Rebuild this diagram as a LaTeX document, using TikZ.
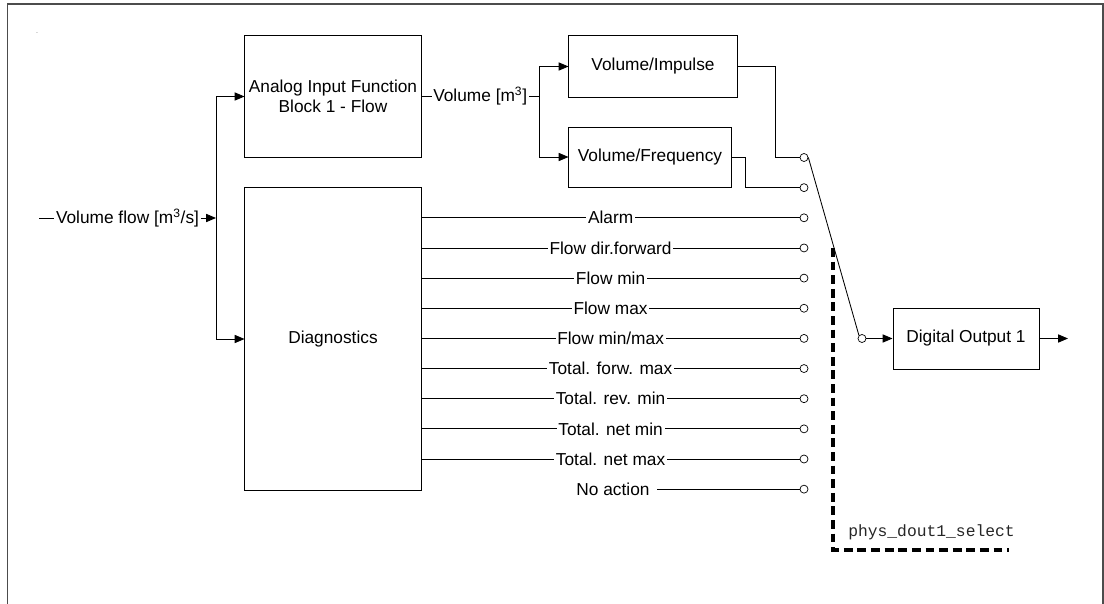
\documentclass[tikz,border=0pt]{standalone}
\usepackage{fontspec}
\setmainfont{Liberation Sans}
\setmonofont{Liberation Mono}
\usetikzlibrary{arrows.meta, positioning}

\begin{document}
\begin{tikzpicture}[
  x=0.025cm, y=-0.025cm,
  font=\fontsize{12.3}{14.2}\selectfont,
  blk/.style={draw, line width=0.7pt, inner sep=0pt, align=center},
  arr/.style={-{Triangle[length=7pt, width=5.8pt]}, line width=0.6pt},
  wire/.style={line width=0.6pt},
  lbl/.style={fill=white, inner xsep=1.2pt, inner ysep=0pt},
  pin/.style={circle, draw, fill=white, line width=0.5pt, minimum size=0.2cm, inner sep=0pt},
  selline/.style={line width=2.6pt, dash pattern=on 0.22cm off 0.12cm},
  frame/.style={draw=black!70, line width=1pt}
]
  \useasboundingbox (0,0) rectangle (1104,604);
  %% Outer frame (open at the bottom)
  \draw[frame] (7.5,604) |- (1103,4) -- (1103,604);
  \node[font=\tiny, inner sep=0pt, text=black!60] (dot) at (37,33) {.};

  %% Blocks
  \node[blk, minimum width=4.4cm,  minimum height=3.025cm] (analog) at (333,96.5)  {Analog Input Function\\Block 1 - Flow};
  \node[blk, minimum width=4.4cm,  minimum height=7.55cm]  (diag)   at (333,339)   {Diagnostics};
  \node[blk, minimum width=4.2cm,  minimum height=1.525cm] (vimp)   at (653,66.5)  {Volume/Impulse};
  \node[blk, minimum width=4.05cm, minimum height=1.5cm]   (vfreq)  at (650,157)   {Volume/Frequency};
  \node[blk, minimum width=3.65cm, minimum height=1.525cm] (dout)   at (966,338.5) {Digital Output 1};

  %% Switch contacts
  \foreach \i in {1,...,12}
    \node[pin] (c\i) at (804,157.5+30.15*\i-30.15) {};
  \node[pin] (din) at (862,338.5) {};

  %% Input flow, split to both blocks
  \coordinate (vin)   at (39,218);
  \coordinate (split) at (216,218);
  \draw[arr] (vin) -- node[lbl]{Volume flow [m\textsuperscript{3}/s]} (split);
  \draw[arr] (split) |- (analog.west);
  \draw[arr] (split) |- (diag.west);

  %% Volume to the two converters
  \coordinate (vsplit) at (539,96.5);
  \draw[wire] (analog.east) -- node[lbl]{Volume [m\textsuperscript{3}]} (vsplit);
  \draw[arr] (vsplit) |- (vimp.west);
  \draw[arr] (vsplit) |- (vfreq.west);
  \draw[wire] (vimp.east) -- ++(38,0) |- (c1.west);
  \draw[wire] (vfreq.east) -- ++(14,0) |- (c2.west);

  %% Diagnostics outputs
  \foreach \i/\txt in {3/Alarm, 4/Flow dir.forward, 5/Flow min, 6/Flow max, 7/{Flow min/max},
                       8/Total. forw. max, 9/Total. rev. min, 10/Total. net min, 11/Total. net max}
    \draw[wire] (diag.east |- c\i) -- node[lbl]{\txt} (c\i.west);
  \path (c12) ++(-191,0) node[lbl] (noact) {No action};
  \draw[wire] ([xshift=4pt]noact.east) -- (c12.west);

  %% Selector
  \draw[wire] (c1.east) -- (din.north west);
  \draw[arr] (din) -- (dout);
  \coordinate (out) at (1068,338.5);
  \draw[arr] (dout) -- (out);

  %% Parameter that sets the switch
  \coordinate (seltop) at (833,248);
  \coordinate (selend) at (1009,550);
  \draw[selline] (seltop) |- (selend);
  \node[font=\ttfamily\fontsize{11.6}{13}\selectfont, text=black!85, inner sep=0pt] (selname) at (931.5,532) {phys\_dout1\_select};
\end{tikzpicture}
\end{document}
